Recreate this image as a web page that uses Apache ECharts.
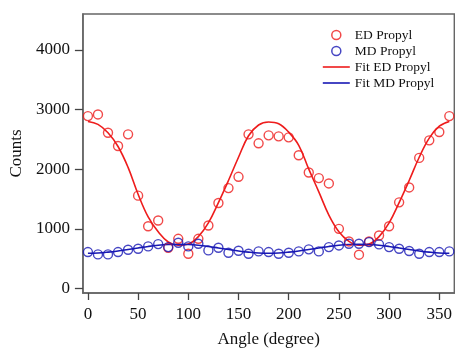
<!DOCTYPE html>
<html><head><meta charset="utf-8">
<script src="https://cdn.jsdelivr.net/npm/echarts@6/dist/echarts.min.js"></script>
<style>html,body{margin:0;padding:0;background:#fff}#c{width:455px;height:353px}</style>
</head><body><div id="c"></div>
<script>
const angles = [0,10,20,30,40,50,60,70,80,90,100,110,120,130,140,150,160,170,180,190,200,210,220,230,240,250,260,270,280,290,300,310,320,330,340,350,360];
const edPropyl = [2889,2917,2611,2389,2583,1556,1044,1139,683,833,583,833,1056,1433,1683,1872,2583,2433,2567,2550,2533,2233,1944,1850,1761,1000,789,567,789,889,1044,1444,1694,2189,2483,2622,2889];
const mdPropyl = [611,572,572,611,650,667,706,744,694,767,706,750,639,683,600,633,583,622,611,583,600,622,656,622,694,722,750,750,778,739,694,667,628,583,611,611,622];
const fitEdPropyl = [2800,2750,2610,2380,2030,1580,1200,950,780,725,745,870,1100,1440,1810,2200,2560,2740,2790,2760,2620,2400,2000,1620,1230,950,790,725,745,870,1100,1440,1810,2200,2520,2720,2800];
const fitMdPropyl = [590,595,610,630,655,680,705,725,737,740,737,725,705,680,655,630,610,595,590,595,610,630,655,680,705,725,737,740,737,725,705,680,655,630,610,595,590];
const xTicks = [0,50,100,150,200,250,300,350];
const yTicks = [0,1000,2000,3000,4000];

const RED = '#ee1c1c', BLUE = '#1818b4';
const font = 'Liberation Serif';
const pair = (xs, ys) => xs.map((x, i) => [x, ys[i]]);
const plain = v => String(v);

const chart = echarts.init(document.getElementById('c'), null, {renderer: 'canvas'});
chart.setOption({
  animation: false,
  backgroundColor: '#fff',
  textStyle: {fontFamily: font},
  grid: {left: 82, top: 14, width: 379, height: 280.5, show: true, borderColor: '#666', borderWidth: 1.5, backgroundColor: 'transparent'},
  legend: {
    left: 322, top: 27, padding: 0, orient: 'vertical', itemWidth: 27, itemHeight: 9, itemGap: 0,
    textStyle: {fontFamily: font, fontSize: 13.5, color: '#111', lineHeight: 16},
    data: [
      {name: 'ED Propyl', icon: 'circle', itemStyle: {color: 'transparent', borderColor: RED, borderWidth: 1.5}},
      {name: 'MD Propyl', icon: 'circle', itemStyle: {color: 'transparent', borderColor: BLUE, borderWidth: 1.5}},
      {name: 'Fit ED Propyl', itemStyle: {opacity: 0}, lineStyle: {color: RED, width: 1.6}},
      {name: 'Fit MD Propyl', itemStyle: {opacity: 0}, lineStyle: {color: BLUE, width: 1.6}}
    ]
  },
  xAxis: {
    type: 'value', min: -5, max: 365,
    name: 'Angle (degree)', nameLocation: 'middle', nameGap: 38,
    nameTextStyle: {fontFamily: font, fontSize: 17, color: '#111'},
    axisLine: {show: true, onZero: false, lineStyle: {color: '#666', width: 1.5}},
    axisTick: {show: true, length: 7, inside: false, customValues: xTicks, lineStyle: {color: '#444', width: 1.3}},
    minorTick: {show: false},
    axisLabel: {customValues: xTicks, formatter: plain, fontFamily: font, fontSize: 17, color: '#111', margin: 13},
    splitLine: {show: false}
  },
  yAxis: {
    type: 'value', min: -75, max: 4600,
    name: 'Counts', nameLocation: 'middle', nameGap: 51,
    nameTextStyle: {fontFamily: font, fontSize: 17, color: '#111'},
    axisLine: {show: true, onZero: false, lineStyle: {color: '#666', width: 1.5}},
    axisTick: {show: true, length: 8, inside: false, customValues: yTicks, lineStyle: {color: '#444', width: 1.3}},
    minorTick: {show: false},
    axisLabel: {customValues: yTicks, formatter: plain, fontFamily: font, fontSize: 17, color: '#111', margin: 13},
    splitLine: {show: false}
  },
  series: [
    {name: 'ED Propyl', type: 'scatter', data: pair(angles, edPropyl), symbol: 'circle', symbolSize: 9,
     itemStyle: {color: 'transparent', borderColor: RED, borderWidth: 1.4}, z: 3},
    {name: 'MD Propyl', type: 'scatter', data: pair(angles, mdPropyl), symbol: 'circle', symbolSize: 9,
     itemStyle: {color: 'transparent', borderColor: BLUE, borderWidth: 1.4}, z: 3},
    {name: 'Fit ED Propyl', type: 'line', data: pair(angles, fitEdPropyl), symbol: 'none', smooth: 0.4,
     lineStyle: {color: RED, width: 1.6}, itemStyle: {color: RED}, z: 2},
    {name: 'Fit MD Propyl', type: 'line', data: pair(angles, fitMdPropyl), symbol: 'none', smooth: 0.4,
     lineStyle: {color: BLUE, width: 1.6}, itemStyle: {color: BLUE}, z: 2}
  ]
});
</script></body></html>
